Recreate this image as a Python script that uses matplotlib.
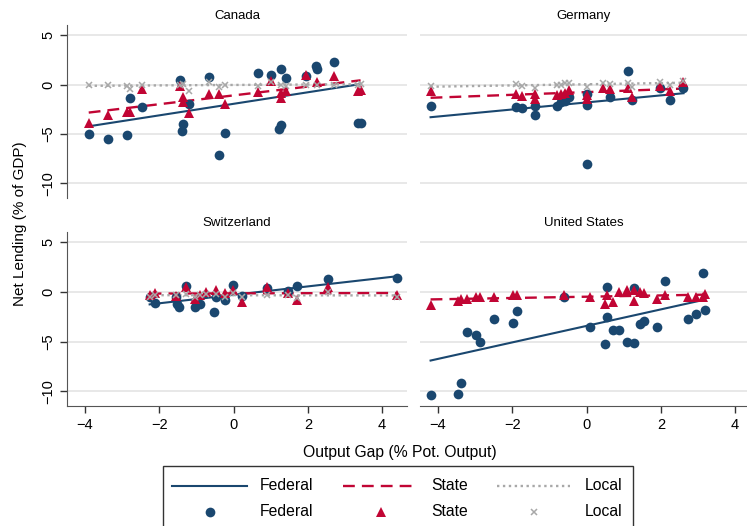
import numpy as np
import matplotlib
matplotlib.use("Agg")
import matplotlib.pyplot as plt
from matplotlib.lines import Line2D
from matplotlib.patches import Rectangle

plt.rcParams['font.family'] = ['Liberation Sans', 'DejaVu Sans']

navy = '#1a476f'
red = '#c10534'
grey = '#a8a8a8'

# ---- data (output gap, net lending) ----
canada_x_fed = [-3.9, -3.38, -2.87, -2.79, -2.47, -1.43, -1.37, -1.39, -1.19, -0.67, -0.39, -0.22,
                0.65, 1.0, 1.28, 1.41, 1.27, 1.22, 1.94, 2.22, 2.26, 2.7, 3.36, 3.42]
canada_fed = [-5.05, -5.5, -5.15, -1.35, -2.25, 0.45, -3.97, -4.7, -2.0, 0.74, -7.1, -4.95,
              1.18, 1.0, 1.6, 0.64, -4.14, -4.55, 0.9, 1.85, 1.6, 2.25, -3.87, -3.94]
canada_x_state = [-3.9, -3.38, -2.87, -2.78, -2.46, -1.43, -1.37, -1.37, -1.19, -0.67, -0.39, -0.22,
                  0.65, 1.0, 1.27, 1.27, 1.41, 1.94, 2.26, 2.7, 3.36, 3.42]
canada_state = [-3.94, -3.03, -2.8, -2.8, -0.4, -0.17, -1.25, -1.78, -2.86, -0.94, -1.0, -1.92,
                -0.77, 0.34, -0.85, -1.35, -0.67, 1.0, 0.23, 0.84, -0.61, -0.5]
canada_x_local = [-3.9, -3.38, -2.87, -2.78, -2.46, -1.43, -1.37, -1.19, -0.67, -0.39, -0.22,
                  0.65, 1.0, 1.27, 1.41, 1.94, 2.26, 2.7, 3.36, 3.42]
canada_local = [0.0, 0.0, -0.1, -0.4, 0.0, 0.0, 0.1, -0.6, 0.3, -0.2, 0.0,
                -0.1, 0.3, 0.0, -0.1, 0.0, 0.0, 0.0, 0.0, 0.1]

germany_x_fed = [-4.2, -1.91, -1.73, -1.39, -1.39, -0.8, -0.68, -0.57, -0.46, 0.02, 0.02, 0.0,
                 0.63, 1.11, 1.22, 1.99, 2.25, 2.61]
germany_fed = [-2.19, -2.29, -2.36, -2.2, -3.13, -2.2, -1.78, -1.68, -1.25, -0.9, -2.02, -8.05,
               -1.25, 1.41, -1.51, -0.34, -1.58, -0.34]
germany_x_state = [-4.2, -1.91, -1.73, -1.39, -1.39, -0.8, -0.68, -0.57, -0.46, 0.02, 0.02,
                   0.44, 0.63, 1.11, 1.22, 1.99, 2.25, 2.61]
germany_state = [-0.67, -0.91, -1.2, -0.9, -1.5, -1.1, -1.0, -0.8, -0.5, -1.5, -1.1,
                 -0.34, -0.4, -0.34, -1.28, -0.1, -0.6, 0.23]
germany_x_local = [-4.2, -1.91, -1.73, -1.39, -0.8, -0.68, -0.57, -0.46, 0.02,
                   0.44, 0.63, 1.11, 1.22, 1.99, 2.25, 2.61]
germany_local = [-0.17, 0.05, -0.1, -0.3, 0.0, 0.0, 0.15, 0.2, -0.2,
                 0.15, 0.1, 0.15, -0.2, 0.3, 0.0, 0.4]

swiss_x_fed = [-2.26, -2.12, -1.56, -1.52, -1.46, -1.29, -1.05, -0.91, -0.52, -0.46, -0.22, -0.01,
               0.23, 0.89, 1.47, 1.72, 2.53, 4.39]
swiss_fed = [-0.53, -1.14, -0.53, -1.2, -1.54, 0.64, -1.54, -1.2, -1.98, -0.53, -0.8, 0.7,
             -0.37, 0.4, 0.13, 0.64, 1.35, 1.38]
swiss_x_state = [-2.26, -2.12, -1.56, -1.29, -1.05, -0.91, -0.75, -0.47, -0.22, -0.01,
                 0.23, 0.89, 1.47, 1.72, 2.53, 4.39]
swiss_state = [-0.3, -0.1, -0.37, 0.47, -0.74, -0.3, 0.03, 0.2, -0.07, 0.2,
               -1.0, 0.47, -0.1, -0.8, 0.47, -0.3]
swiss_x_local = [-2.26, -2.12, -1.56, -1.29, -1.05, -0.91, -0.75, -0.46, -0.22, -0.01,
                 0.23, 0.89, 1.47, 1.72, 2.53, 4.39]
swiss_local = [-0.5, -0.3, -0.3, -0.2, -0.5, -0.3, -0.2, -0.2, -0.5, -0.1,
               -0.5, -0.3, -0.3, -0.6, 0.0, -0.5]

us_x_fed = [-4.2, -3.45, -3.38, -3.22, -2.97, -2.86, -2.5, -1.97, -1.88, -0.61, 0.08, 0.49, 0.55,
            0.55, 0.71, 0.87, 1.09, 1.27, 1.29, 1.43, 1.54, 1.9, 2.12, 2.73, 2.94, 3.13, 3.19]
us_fed = [-10.4, -10.24, -9.16, -4.07, -4.34, -5.08, -2.73, -3.16, -1.89, -0.54, -3.5, -5.25, -2.56,
          0.54, -3.84, -3.84, -5.0, -5.1, 0.37, -3.23, -2.9, -3.57, 1.08, -2.73, -2.26, 1.89, -1.82]
us_x_state = [-4.2, -3.45, -3.38, -3.22, -2.97, -2.86, -2.5, -1.97, -1.88, -0.61, 0.08, 0.49, 0.55,
              0.71, 0.87, 1.09, 1.27, 1.29, 1.43, 1.54, 1.9, 2.12, 2.73, 2.94, 3.13, 3.19]
us_state = [-1.31, -0.88, -0.75, -0.7, -0.5, -0.55, -0.5, -0.35, -0.35, -0.3, -0.55, -1.2, -0.3,
            -0.97, 0.03, 0.2, 0.2, -0.88, 0.03, -0.07, -0.75, -0.3, -0.5, -0.55, -0.5, -0.2]
us_x_local = []
us_local = []

panels = [
    ("Canada", canada_x_fed, canada_fed, canada_x_state, canada_state, canada_x_local, canada_local),
    ("Germany", germany_x_fed, germany_fed, germany_x_state, germany_state, germany_x_local, germany_local),
    ("Switzerland", swiss_x_fed, swiss_fed, swiss_x_state, swiss_state, swiss_x_local, swiss_local),
    ("United States", us_x_fed, us_fed, us_x_state, us_state, us_x_local, us_local),
]

legend_labels = ["Federal", "State", "Local"]

W, H = 747, 526
fig = plt.figure(figsize=(W / 100, H / 100), dpi=100)

# panel boxes in pixels: left, top, right, bottom
boxes = [(67, 25, 407, 198), (420, 25, 747, 198), (67, 232, 407, 406), (420, 232, 747, 406)]
xlims = [(-4.485, 4.67), (-4.485, 4.32), (-4.485, 4.67), (-4.485, 4.32)]

line_styles = [dict(color=navy, lw=1.5, ls='-'),
               dict(color=red, lw=1.7, ls=(0, (5, 3))),
               dict(color=grey, lw=1.7, ls=(0, (1, 1.5)))]
marker_styles = [dict(color=navy, marker='o', ms=7, mew=0),
                 dict(color=red, marker='^', ms=7.5, mew=0),
                 dict(color=grey, marker='x', ms=5, mew=1.1)]


def fit_line(ax, x, y, **kw):
    if len(x) < 2:
        return
    x = np.array(x)
    b, a = np.polyfit(x, np.array(y), 1)
    xs = np.array([x.min(), x.max()])
    ax.plot(xs, a + b * xs, zorder=2, **kw)


for i, (name, xf, yf, xs, ys, xl, yl) in enumerate(panels):
    l, t, r, b = boxes[i]
    ax = fig.add_axes([l / W, 1 - b / H, (r - l) / W, (b - t) / H])
    ax.set_xlim(*xlims[i])
    ax.set_ylim(-11.5, 6.05)
    ax.set_yticks([-10, -5, 0, 5])
    ax.set_xticks([-4, -2, 0, 2, 4])
    ax.grid(axis='y', color='#e6e6e6', linewidth=1.3)
    ax.set_axisbelow(True)
    for s in ['top', 'right']:
        ax.spines[s].set_visible(False)
    ax.spines['left'].set_color('#555555')
    ax.spines['bottom'].set_color('#555555')
    left_col = (i % 2 == 0)
    bottom_row = (i >= 2)
    if not left_col:
        ax.spines['left'].set_visible(False)
        ax.tick_params(axis='y', left=False, labelleft=False)
    if not bottom_row:
        ax.spines['bottom'].set_visible(False)
        ax.tick_params(axis='x', bottom=False, labelbottom=False)
    ax.tick_params(axis='both', length=5, width=1, color='#333333', labelsize=10.5)
    for lab in ax.get_yticklabels():
        lab.set_rotation(90)
        lab.set_va('center')
    ax.set_title(name, fontsize=9.5, pad=4)

    series = [(xf, yf), (xs, ys), (xl, yl)]
    for k, (sx, sy) in enumerate(series):
        fit_line(ax, sx, sy, **line_styles[k])
    for k, (sx, sy) in enumerate(series):
        ax.plot(sx, sy, ls='none', zorder=3 + k, **marker_styles[k])

fig.text(0.027, 1 - 224 / H, "Net Lending (% of GDP)", rotation=90, ha='center', va='center', fontsize=11)
fig.text(400 / W, 1 - 452 / H, "Output Gap (% Pot. Output)", ha='center', va='center', fontsize=11.3)

# legend box drawn in figure pixels (runs off the bottom edge like the original)
frame = Rectangle((163 / W, 1 - 532 / H), (633 - 163) / W, (532 - 466) / H,
                  transform=fig.transFigure, fill=False, edgecolor='#333333', lw=1.0, clip_on=False)
fig.add_artist(frame)
col_x = [(172, 247, 260), (343, 418, 431), (497, 570, 585)]
for k, (x0, x1, xt) in enumerate(col_x):
    y1 = 1 - 486 / H
    y2 = 1 - 512 / H
    fig.add_artist(Line2D([x0 / W, x1 / W], [y1, y1], transform=fig.transFigure, **line_styles[k]))
    xm = (x0 + x1) / 2 / W
    fig.add_artist(Line2D([xm], [y2], transform=fig.transFigure, ls='none', **marker_styles[k]))
    fig.text(xt / W, y1, legend_labels[k], ha='left', va='center', fontsize=11.3)
    fig.text(xt / W, y2, legend_labels[k], ha='left', va='center', fontsize=11.3)

fig.savefig("out.png", dpi=100)
